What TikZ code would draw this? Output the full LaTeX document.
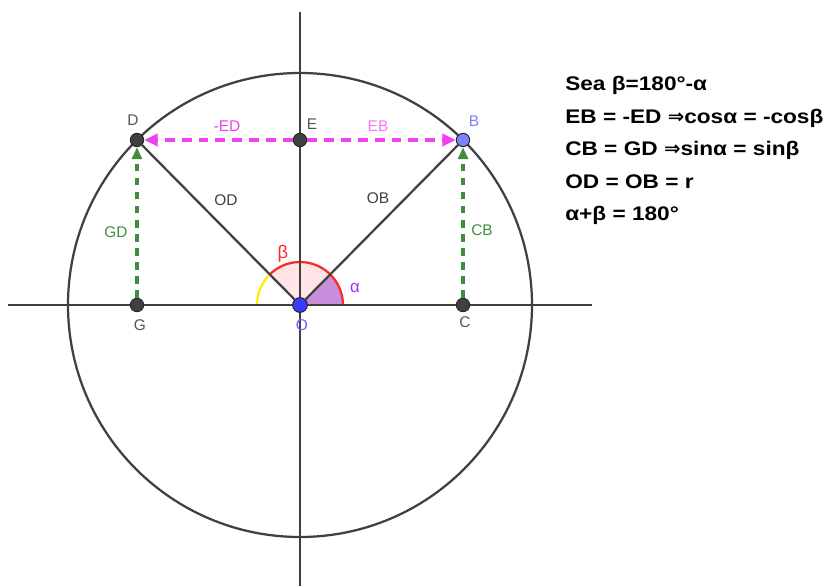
\documentclass[tikz,border=0pt]{standalone}
\usepackage{fontspec}
\setmainfont{Liberation Sans}
\newfontfamily\notefont[FakeStretch=1.15]{Liberation Sans}
\newfontfamily\arrowfont{DejaVu Sans}
\usetikzlibrary{arrows.meta, positioning}
\definecolor{axis}{HTML}{404040}
\definecolor{lblgray}{HTML}{555555}
\definecolor{vecmag}{HTML}{F040F0}
\definecolor{vecgreen}{HTML}{3E8E3E}
\definecolor{betared}{HTML}{FF2828}
\definecolor{alphapur}{HTML}{9933FF}
\definecolor{alphafill}{HTML}{C98EDB}
\definecolor{ptblue}{HTML}{3A3AFF}
\definecolor{ptlight}{HTML}{8080FF}

\begin{document}
\begin{tikzpicture}[x=0.025cm, y=0.025cm,
  axisline/.style={draw=axis, line width=1.6pt},
  pnt/.style={circle, draw=black!85, line width=0.7pt, fill=axis, inner sep=0pt, minimum size=9.5pt},
  lbl/.style={font=\fontsize{11}{13}\selectfont, text=lblgray, inner sep=1pt},
  hvec/.style={draw=vecmag, line width=2.6pt, dash pattern=on 7pt off 5pt, -{Triangle[length=9.5pt, width=8.5pt]}},
  vvec/.style={draw=vecgreen, line width=2.3pt, dash pattern=on 5.5pt off 4.5pt, -{Triangle[length=8.5pt, width=7pt]}},
  note/.style={font=\notefont\bfseries\fontsize{14}{16}\selectfont, anchor=base west, inner sep=0pt}
]
  \useasboundingbox (-300,-281) rectangle (529,305);

  % angle sectors
  \coordinate (o) at (0,0);
  \fill[betared!12] (o) -- (0:43) arc[start angle=0, end angle=135, radius=43] -- cycle;
  \fill[alphafill] (o) -- (0:43) arc[start angle=0, end angle=45, radius=43] -- cycle;
  \draw[yellow!95!orange, line width=1.6pt] (135:43) arc[start angle=135, end angle=180, radius=43];
  \draw[betared, line width=1.6pt] (0:43) arc[start angle=0, end angle=135, radius=43];

  % axes and circle
  \draw[axisline] (-292,0) -- (292,0);
  \draw[axisline] (0,-281) -- (0,293);
  \draw[axisline] (o) circle[radius=232];

  % points
  \node[pnt] (G) at (-163,0) {};
  \node[pnt] (C) at (163,0) {};
  \node[pnt] (D) at (-163,165) {};
  \node[pnt] (E) at (0,165) {};
  \node[pnt, fill=ptlight] (B) at (163,165) {};
  \node[pnt, fill=ptblue, minimum size=10.5pt] (O) at (0,0) {};

  \draw[axisline] (O) -- (D);
  \draw[axisline] (O) -- (B);
  \draw[hvec] (E) -- (D);
  \draw[hvec] (E) -- (B);
  \draw[vvec] (G) -- (D);
  \draw[vvec] (C) -- (B);

  % labels
  \node[lbl] (Dl) at (-167,185) {D};
  \node[lbl] (El) at (12,181) {E};
  \node[lbl, text=ptlight] (Bl) at (174,184) {B};
  \node[lbl] (Gl) at (-160,-20) {G};
  \node[lbl] (Cl) at (165,-17) {C};
  \node[lbl, text=ptblue!80] (Ol) at (2,-20) {O};
  \node[lbl, text=vecmag] (EDl) at (-73,179) {-ED};
  \node[lbl, text=vecmag!70] (EBl) at (78,179) {EB};
  \node[lbl, text=axis] (ODl) at (-74,105) {OD};
  \node[lbl, text=axis] (OBl) at (78,107) {OB};
  \node[lbl, text=vecgreen] (GDl) at (-184,73) {GD};
  \node[lbl, text=vecgreen] (CBl) at (182,75) {CB};
  \node[lbl, text=betared, font=\fontsize{13}{15}\selectfont] (betal) at (-17,51) {β};
  \node[lbl, text=alphapur, font=\fontsize{12}{14}\selectfont] (alphal) at (55,17) {α};

  % relations
  \node[note] (n1) at (265,214) {Sea β=180°-α};
  \node[note] (n2) at (265,181) {EB = -ED {\arrowfont ⇒}cosα = -cosβ};
  \node[note] (n3) at (265,149) {CB = GD {\arrowfont ⇒}sinα = sinβ};
  \node[note] (n4) at (265,116) {OD = OB = r};
  \node[note] (n5) at (265,84) {α+β = 180°};
\end{tikzpicture}
\end{document}
